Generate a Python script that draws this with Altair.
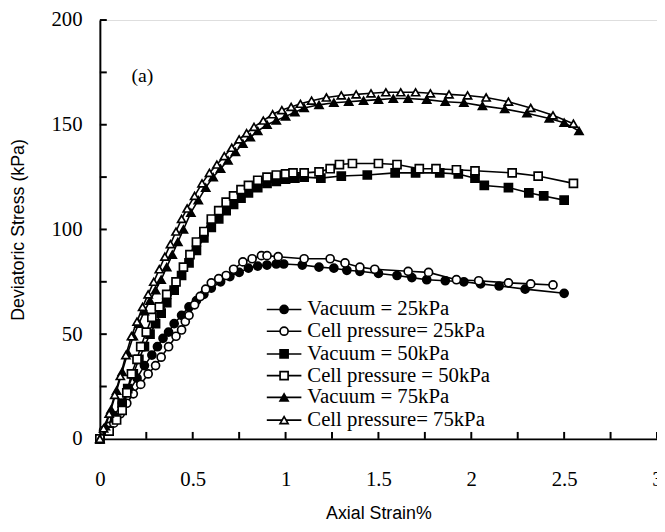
import altair as alt
import pandas as pd

SERIF = "Liberation Serif"
SANS = "Liberation Sans"

names = ["Vacuum = 25kPa", "Cell pressure= 25kPa", "Vacuum = 50kPa",
         "Cell pressure = 50kPa", "Vacuum = 75kPa", "Cell pressure= 75kPa"]
shapes = ["circle", "circle", "square", "square", "triangle-up", "triangle-up"]
fills = ["black", "white", "black", "white", "black", "white"]

v25_x = [0, 0.04, 0.08, 0.12, 0.16, 0.2, 0.24, 0.28, 0.31, 0.34, 0.37, 0.4, 0.44, 0.48, 0.52, 0.56, 0.6, 0.65,
         0.7, 0.75, 0.8, 0.85, 0.9, 0.95, 0.99, 1.09, 1.18, 1.26, 1.33, 1.4, 1.5, 1.6, 1.68, 1.76, 1.86, 1.96,
         2.05, 2.15, 2.29, 2.5]
v25_y = [0, 5, 11, 17, 23, 29, 35, 40, 44, 48, 51, 55, 59, 63, 66, 69, 72, 75, 77.5, 79.5, 81.5, 82.5, 83,
         83.5, 83.5, 83, 82, 81.5, 80.5, 80, 79, 78, 77, 76, 75.5, 75, 74, 73, 71.5, 69.5]

c25_x = [0, 0.02, 0.05, 0.075, 0.11, 0.145, 0.18, 0.22, 0.26, 0.3, 0.33, 0.37, 0.41, 0.44, 0.46, 0.48, 0.51,
         0.54, 0.57, 0.6, 0.64, 0.68, 0.72, 0.77, 0.82, 0.87, 0.9, 0.96, 1.1, 1.24, 1.32, 1.4, 1.48, 1.66,
         1.77, 1.92, 2.04, 2.2, 2.32, 2.44]
c25_y = [0, 4, 6, 7.5, 12, 17, 21.5, 26, 31, 35, 39, 44, 49, 52, 56, 59, 64, 68, 71.5, 74.5, 76.5, 78, 81,
         84.5, 86, 87.5, 87.5, 87, 86, 86, 84, 82, 81, 80, 79.5, 76, 75.5, 74.5, 74, 73.5]

v50_x = [0, 0.04, 0.08, 0.12, 0.15, 0.18, 0.21, 0.24, 0.27, 0.3, 0.33, 0.36, 0.4, 0.44, 0.48, 0.52, 0.56,
         0.6, 0.64, 0.68, 0.72, 0.76, 0.8, 0.85, 0.9, 0.95, 1.0, 1.05, 1.1, 1.19, 1.3, 1.44, 1.59, 1.7, 1.83,
         1.93, 2.02, 2.07, 2.2, 2.31, 2.39, 2.5]
v50_y = [0, 4, 10, 17, 24, 31, 38, 44, 50, 55, 60, 65, 71, 78, 84, 90, 96, 101, 105, 109, 112, 115, 117.5,
         120, 122, 123, 124, 124.5, 125, 124.5, 125.5, 126, 127, 127, 127, 126.5, 124.5, 121, 120, 117.5,
         116, 114]

c50_x = [0, 0.05, 0.09, 0.12, 0.145, 0.17, 0.2, 0.22, 0.25, 0.28, 0.32, 0.36, 0.41, 0.45, 0.485, 0.52, 0.56,
         0.6, 0.64, 0.68, 0.72, 0.76, 0.8, 0.85, 0.9, 0.95, 1.0, 1.04, 1.1, 1.18, 1.24, 1.29, 1.36, 1.5, 1.6,
         1.72, 1.81, 1.92, 2.02, 2.22, 2.36, 2.55]
c50_y = [0, 3.7, 9, 13.6, 22, 31, 38, 44, 51, 58, 63, 69, 75, 82, 88, 94, 99, 105, 109, 113, 116, 119, 121,
         123.5, 125, 126, 126.5, 127, 127, 127.5, 129, 131, 131.5, 131.5, 131, 129, 129, 128.5, 128, 127,
         125.5, 122]

v75_x = [0, 0.03, 0.06, 0.09, 0.12, 0.15, 0.18, 0.21, 0.24, 0.27, 0.3, 0.33, 0.36, 0.39, 0.42, 0.45, 0.49,
         0.53, 0.57, 0.61, 0.65, 0.69, 0.73, 0.77, 0.81, 0.85, 0.9, 0.95, 1.0, 1.05, 1.1, 1.18, 1.26, 1.34,
         1.42, 1.5, 1.58, 1.66, 1.76, 1.86, 1.96, 2.06, 2.18, 2.3, 2.42, 2.5, 2.58]
v75_y = [0, 6, 14, 23, 32, 41, 49, 55, 61, 66, 71, 76, 82, 88, 94, 100, 108, 114, 120, 125, 129, 133, 137,
         141, 144, 147, 150, 152, 154, 156, 158, 159.5, 160.5, 161, 161.5, 162, 162.5, 162.5, 162, 161, 160.5,
         159, 157.5, 155.5, 153, 151, 147]

c75_x = [0, 0.02, 0.05, 0.08, 0.11, 0.14, 0.17, 0.2, 0.23, 0.26, 0.29, 0.32, 0.35, 0.38, 0.41, 0.44, 0.47,
         0.51, 0.55, 0.59, 0.63, 0.67, 0.71, 0.75, 0.79, 0.83, 0.88, 0.93, 0.98, 1.03, 1.08, 1.14, 1.22, 1.3,
         1.38, 1.46, 1.54, 1.62, 1.7, 1.78, 1.88, 1.98, 2.08, 2.2, 2.32, 2.44, 2.55]
c75_y = [0, 5, 12, 21, 30, 40, 49, 56, 63, 69, 75, 81, 87, 93, 99, 105, 110, 116, 122, 127, 131, 135, 139,
         143, 146, 149, 152, 155, 157, 158.5, 160, 161.5, 163, 164, 164.5, 165, 165.5, 165.5, 165.5, 165,
         164.5, 164, 163, 161, 158, 154.5, 150.5]

series_xy = [(v25_x, v25_y), (c25_x, c25_y), (v50_x, v50_y), (c50_x, c50_y), (v75_x, v75_y), (c75_x, c75_y)]

x_tick_labels = [0, 0.5, 1, 1.5, 2, 2.5, 3]
x_minor_ticks = [0.25, 0.5, 0.75, 1, 1.25, 1.5, 1.75, 2, 2.25, 2.5, 2.75, 3]
y_tick_labels = [0, 50, 100, 150, 200]
y_minor_ticks = [25, 50, 75, 100, 125, 150, 175, 200]

rows = []
for name, (xs, ys) in zip(names, series_xy):
    for i, (a, b) in enumerate(zip(xs, ys)):
        rows.append({"series": name, "strain": a, "stress": b, "i": i})
df = pd.DataFrame(rows)

W, H = 564, 424
TOP = 9
MSIZE = 66
MSTROKE = 1.7

xscale = alt.Scale(domain=[0, 3], nice=False, zero=True)
yscale = alt.Scale(domain=[0, 200], nice=False, zero=True)

xenc = alt.X("strain:Q", scale=xscale,
             axis=alt.Axis(title="Axial Strain%", values=x_tick_labels, labelExpr="'' + datum.value",
                           ticks=False, tickSize=0, grid=False, labelPadding=30, labelFont=SERIF,
                           labelFontSize=21, labelColor="black", titleFont=SANS, titleFontSize=18,
                           titleFontWeight="normal", titleColor="black", titlePadding=16,
                           domainColor="black", domainWidth=2, labelFlush=False, labelOverlap=False))
yenc = alt.Y("stress:Q", scale=yscale,
             axis=alt.Axis(title="Deviatoric Stress (kPa)", values=y_tick_labels,
                           labelExpr="'' + datum.value", ticks=False, tickSize=0, grid=False,
                           labelPadding=18, labelFont=SERIF, labelFontSize=21, labelColor="black",
                           titleFont=SANS, titleFontSize=18, titleFontWeight="normal", titleColor="black",
                           titlePadding=24, domainColor="black", domainWidth=2, labelFlush=False,
                           labelOverlap=False))

lines = alt.Chart(df).mark_line(color="black", strokeWidth=1.6).encode(
    x=xenc, y=yenc, detail="series:N", order="i:Q")

points = alt.Chart(df).mark_point(filled=True, size=MSIZE, stroke="black", strokeWidth=MSTROKE,
                                  opacity=1).encode(
    x=alt.X("strain:Q", scale=xscale),
    y=alt.Y("stress:Q", scale=yscale),
    shape=alt.Shape("series:N", scale=alt.Scale(domain=names, range=shapes), legend=None),
    fill=alt.Fill("series:N", scale=alt.Scale(domain=names, range=fills), legend=None),
)

ytk = alt.Chart(pd.DataFrame({"v": y_minor_ticks})).mark_rule(color="black", strokeWidth=2).encode(
    y=alt.Y("v:Q", scale=yscale), x=alt.value(0), x2=alt.value(7))
xtk = alt.Chart(pd.DataFrame({"v": x_minor_ticks})).mark_rule(color="black", strokeWidth=2).encode(
    x=alt.X("v:Q", scale=xscale), y=alt.value(H), y2=alt.value(H - 7))

label_a = alt.Chart(pd.DataFrame({"t": ["(a)"]})).mark_text(
    font=SERIF, fontSize=20, align="left", baseline="middle", color="black").encode(
    x=alt.value(32), y=alt.value(59 - (TOP - 7)), text="t:N")

legend_layers = []
row_y = [295, 317, 340, 362, 384, 407]
for name, shp, fl, ry in zip(names, shapes, fills, row_y):
    ry = ry - (TOP - 7)
    one = pd.DataFrame({"series": [name]})
    legend_layers.append(alt.Chart(one).mark_rule(color="black", strokeWidth=1.6).encode(
        x=alt.value(169), x2=alt.value(204), y=alt.value(ry)))
    legend_layers.append(alt.Chart(one).mark_point(filled=True, size=MSIZE, stroke="black",
                                                   strokeWidth=MSTROKE, opacity=1, shape=shp,
                                                   fill=fl).encode(
        x=alt.value(186.5), y=alt.value(ry)))
    legend_layers.append(alt.Chart(one).mark_text(font=SERIF, fontSize=21, align="left", baseline="middle",
                                                  color="black").encode(
        x=alt.value(210), y=alt.value(ry), text="series:N"))

chart = alt.layer(lines, points, ytk, xtk, label_a, *legend_layers).properties(
    width=W, height=H,
    autosize=alt.AutoSizeParams(type="none"),
    padding={"left": 93, "top": TOP, "right": 0, "bottom": 83},
).configure_view(strokeWidth=0).configure(background="white")

chart.save("out.html", embed_options={"renderer": "svg", "actions": False})
